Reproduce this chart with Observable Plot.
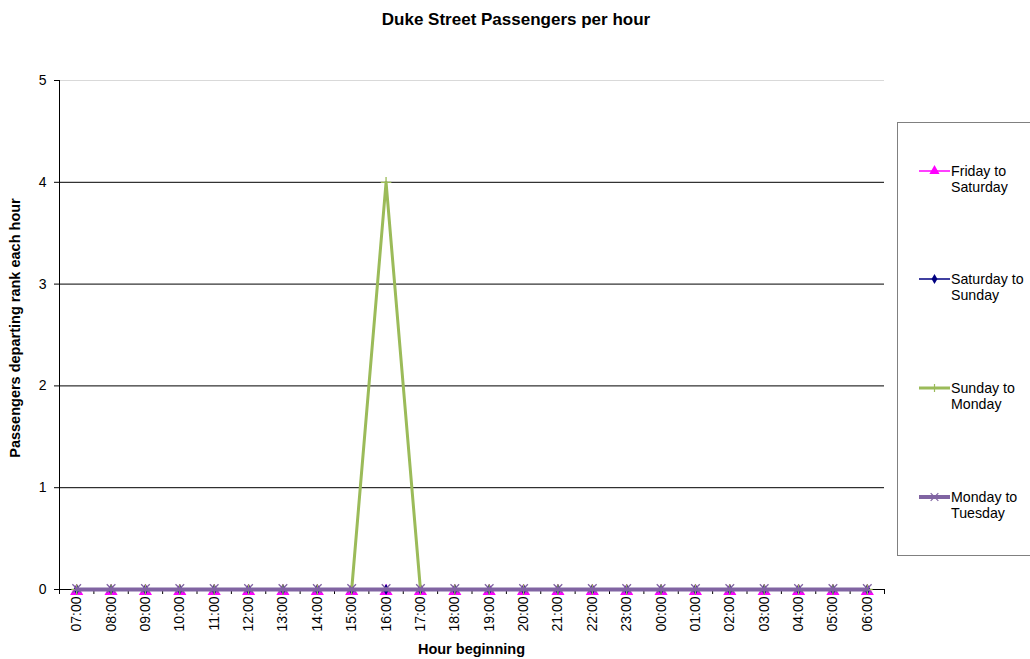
<!DOCTYPE html>
<html>
<head>
<meta charset="utf-8">
<script src="https://cdn.jsdelivr.net/npm/d3@7"></script>
<script src="https://cdn.jsdelivr.net/npm/@observablehq/plot@0.6"></script>
<style>
  body { margin: 0; background: #fff; font-family: "Liberation Sans", Arial, sans-serif; }
  #wrap { position: relative; width: 1030px; height: 659px; overflow: hidden; }
  #title { position: absolute; left: 0; width: 1032px; top: 10px; text-align: center; font-weight: bold; font-size: 17px; }
  #xlabel { position: absolute; left: 59px; width: 825px; top: 641px; text-align: center; font-weight: bold; font-size: 14.5px; }
  #ylabel { position: absolute; left: 15px; top: 328px; transform: translate(-50%, -50%) rotate(-90deg); white-space: nowrap; font-weight: bold; font-size: 14.5px; }
  #legend { position: absolute; left: 897px; top: 122px; width: 140px; height: 434px; border: 1px solid #808080; box-sizing: border-box; font-size: 14.2px; }
  .item { position: absolute; left: 21px; display: flex; align-items: flex-start; }
  .item svg { flex: none; margin-top: 0px; }
  .item span { line-height: 16px; margin-left: 1px; }
</style>
</head>
<body>
<div id="wrap">
  <div id="chart"></div>
  <div id="title">Duke Street Passengers per hour</div>
  <div id="ylabel">Passengers departing rank each hour</div>
  <div id="xlabel">Hour beginning</div>
  <div id="legend"></div>
</div>
<script>
const hours = ["07:00","08:00","09:00","10:00","11:00","12:00","13:00","14:00","15:00","16:00","17:00","18:00","19:00","20:00","21:00","22:00","23:00","00:00","01:00","02:00","03:00","04:00","05:00","06:00"];
const fridayToSaturday = [0,0,0,0,0,0,0,0,0,0,0,0,0,0,0,0,0,0,0,0,0,0,0,0];
const saturdayToSunday = [0,0,0,0,0,0,0,0,0,0,0,0,0,0,0,0,0,0,0,0,0,0,0,0];
const sundayToMonday   = [0,0,0,0,0,0,0,0,0,4,0,0,0,0,0,0,0,0,0,0,0,0,0,0];
const mondayToTuesday  = [0,0,0,0,0,0,0,0,0,0,0,0,0,0,0,0,0,0,0,0,0,0,0,0];
const yTicks = [0,1,2,3,4,5];

const seriesDefs = [
  {name: "Friday to Saturday", lines: ["Friday to", "Saturday"], values: fridayToSaturday, color: "#ff00ff", width: 1.5, symbol: "triangle", r: 4.9, dy: 1.8},
  {name: "Saturday to Sunday", lines: ["Saturday to", "Sunday"], values: saturdayToSunday, color: "#000080", width: 1.5, symbol: "diamond", r: 3.3, dy: 0},
  {name: "Sunday to Monday", lines: ["Sunday to", "Monday"], values: sundayToMonday, color: "#9bbb59", width: 3, symbol: "plus", r: 3.5, dy: 0},
  {name: "Monday to Tuesday", lines: ["Monday to", "Tuesday"], values: mondayToTuesday, color: "#8064a2", width: 4, symbol: "times", r: 4, dy: -1}
];

const rows = seriesDefs.map(s => s.values.map((v, i) => ({series: s.name, i, v})));
const idx = hours.map((h, i) => i);
const bounds = hours.map((h, i) => i - 0.5).concat([hours.length - 0.5]);

const marks = [
  Plot.ruleY(yTicks.filter(t => t > 0 && t < 5), {y: d => d, stroke: "#000", strokeWidth: 1}),
  Plot.ruleY([5], {y: d => d, stroke: "#d9d9d9", strokeWidth: 1}),
  Plot.axisY({ticks: yTicks, tickSize: 5, tickPadding: 8, fontSize: 14, tickFormat: d3.format("d"), label: null, stroke: "#000"}),
  Plot.axisX({ticks: idx, tickSize: 0, tickPadding: 7, tickRotate: -90, fontSize: 14, tickFormat: i => hours[i], label: null}),
  Plot.axisX({ticks: bounds, tickSize: 5, tickFormat: () => "", label: null, stroke: "#000"}),
  Plot.ruleX([-0.5], {stroke: "#000"}),
  Plot.ruleY([0], {stroke: "#000"})
];
seriesDefs.forEach((s, k) => {
  const isStroke = s.symbol === "plus" || s.symbol === "times";
  marks.push(Plot.line(rows[k], {x: "i", y: "v", stroke: s.color, strokeWidth: s.width}));
  marks.push(Plot.dot(rows[k], {x: "i", y: "v", symbol: () => s.symbol, r: s.r, dy: s.dy,
    fill: isStroke ? "none" : s.color, stroke: isStroke ? s.color : "none", strokeWidth: isStroke ? 1.3 : 0}));
});

const chart = Plot.plot({
  width: 1030, height: 659,
  marginLeft: 59, marginRight: 146, marginTop: 80, marginBottom: 70,
  style: {fontFamily: "'Liberation Sans', Arial, sans-serif", fontSize: "14px", color: "#000", background: "#fff"},
  x: {type: "linear", domain: [-0.5, hours.length - 0.5], axis: null},
  y: {domain: [0, 5], axis: null},
  symbol: {type: "identity"},
  marks
});
document.getElementById("chart").appendChild(chart);

// Legend
const legend = document.getElementById("legend");
const tops = [40, 148, 257, 366];
seriesDefs.forEach((s, k) => {
  const item = document.createElement("div");
  item.className = "item";
  item.style.top = tops[k] + "px";
  const isStroke = s.symbol === "plus" || s.symbol === "times";
  const size = s.symbol === "times" ? 40 : (s.symbol === "triangle" ? 45 : 30);
  const path = s.symbol === "plus" ? "M0,-4V4" : d3.symbol().type({triangle: d3.symbolTriangle, diamond: d3.symbolDiamond, times: d3.symbolTimes || d3.symbolX}[s.symbol]).size(size)();
  item.innerHTML = `<svg width="31" height="16"><line x1="0" x2="31" y1="8" y2="8" stroke="${s.color}" stroke-width="${s.width}"/>
    <path transform="translate(15.5,8)" d="${path}" fill="${isStroke ? "none" : s.color}" stroke="${isStroke ? s.color : "none"}" stroke-width="1.2"/></svg>
    <span>${s.lines[0]}<br>${s.lines[1]}</span>`;
  legend.appendChild(item);
});
</script>
</body>
</html>
